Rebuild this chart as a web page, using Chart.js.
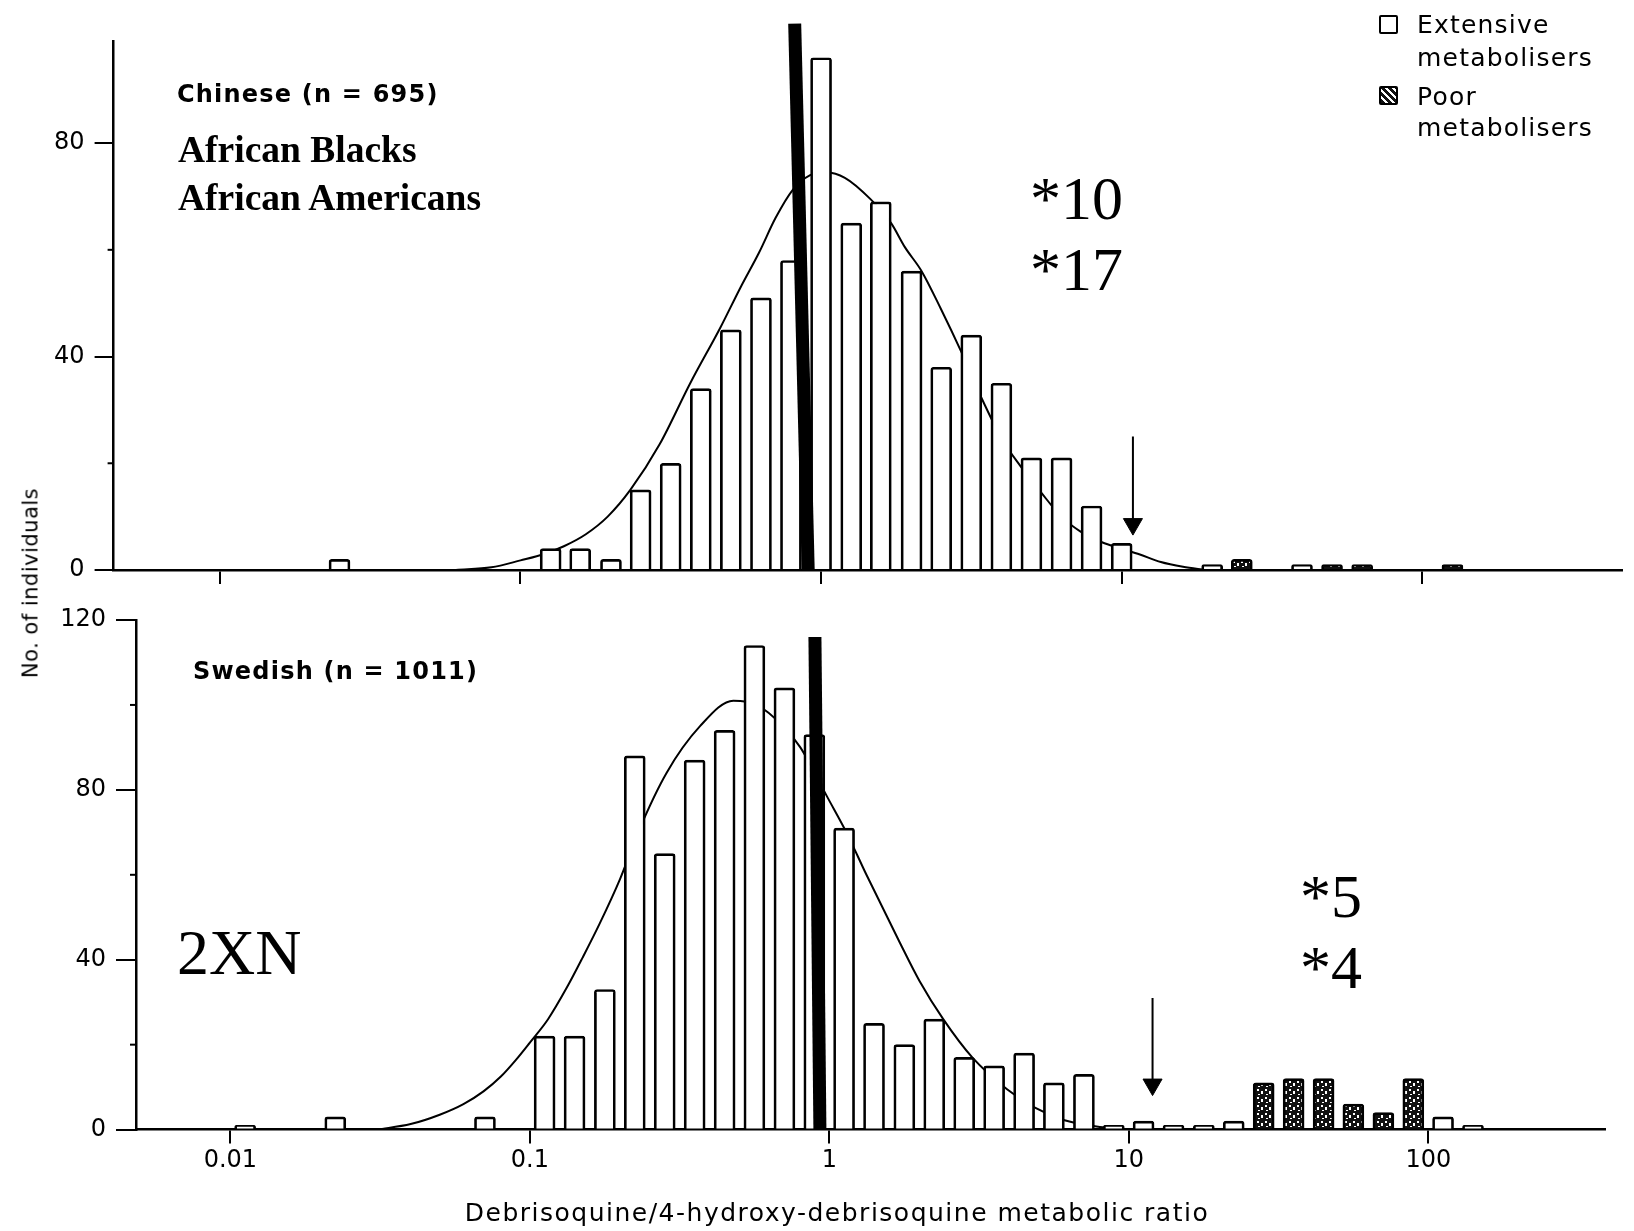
<!DOCTYPE html>
<html><head><meta charset="utf-8">
<script src="https://cdn.jsdelivr.net/npm/chart.js@4.4.1/dist/chart.umd.min.js"></script>
<style>
html,body{margin:0;padding:0;background:#fff;}
#wrap{position:relative;width:1634px;height:1231px;overflow:hidden;background:#fff;font-family:"DejaVu Sans",sans-serif;color:#000;}
canvas{position:absolute;left:0;top:0;}
.t{position:absolute;white-space:nowrap;line-height:1;}
.serif{font-family:"Liberation Serif","Times New Roman",serif;}
.box{position:absolute;width:15px;height:15px;border:2.5px solid #000;border-radius:2px;background:#fff;}
</style></head><body>
<div id="wrap">
<canvas id="cTop" width="1634" height="1231"></canvas>
<canvas id="cBot" width="1634" height="1231"></canvas>

<div class="t" style="left:177px;top:82px;font-size:24px;font-weight:bold;letter-spacing:1.2px;">Chinese (n = 695)</div>
<div class="t serif" style="left:178px;top:131px;font-size:37.5px;font-weight:bold;">African Blacks</div>
<div class="t serif" style="left:178px;top:179px;font-size:37.5px;font-weight:bold;">African Americans</div>
<div class="t serif" style="left:1030px;top:167px;font-size:62px;">*10</div>
<div class="t serif" style="left:1030px;top:238px;font-size:62px;">*17</div>

<div class="t" style="left:193px;top:659px;font-size:24px;font-weight:bold;letter-spacing:1.2px;">Swedish (n = 1011)</div>
<div class="t serif" style="left:177px;top:921px;font-size:64px;">2XN</div>
<div class="t serif" style="left:1300px;top:865px;font-size:62px;">*5</div>
<div class="t serif" style="left:1300px;top:936px;font-size:62px;">*4</div>

<div class="box" style="left:1379px;top:15px;"></div>
<div class="t" style="left:1417px;top:12px;font-size:25px;letter-spacing:1.2px;">Extensive</div>
<div class="t" style="left:1417px;top:45px;font-size:25px;letter-spacing:1.2px;">metabolisers</div>
<div class="box" style="left:1379px;top:86px;background:repeating-linear-gradient(45deg,#111 0 3px,#fff 3px 5px);"></div>
<div class="t" style="left:1417px;top:84px;font-size:25px;letter-spacing:1.2px;">Poor</div>
<div class="t" style="left:1417px;top:115px;font-size:25px;letter-spacing:1.2px;">metabolisers</div>

<div class="t" style="left:31px;top:583px;font-size:21px;letter-spacing:0.5px;transform:translate(-50%,-50%) rotate(-90deg);">No. of individuals</div>
<div class="t" style="left:837px;top:1212px;font-size:25px;letter-spacing:1.5px;transform:translate(-50%,-50%);">Debrisoquine/4-hydroxy-debrisoquine metabolic ratio</div>
</div>

<script>
// ---------- shared axis ticks ----------
const xTicks = [0.01, 0.1, 1, 10, 100];

// ---------- Chinese (n = 695) ----------
const cnYTicks = [0, 40, 80];
const cnYMinor = [20, 60];
const cnEmRatio = [0.025, 0.126, 0.158, 0.200, 0.251, 0.316, 0.398, 0.501, 0.631, 0.794, 1.00, 1.26, 1.58, 2.00, 2.51, 3.16, 3.98, 5.01, 6.31, 7.94, 10.0, 20.0, 39.8];
const cnEmCount = [2, 4, 4, 2, 15, 20, 34, 45, 51, 58, 96, 65, 69, 56, 38, 44, 35, 21, 21, 12, 5, 1, 1];
const cnPmRatio = [25.1, 50.1, 63.1, 126];
const cnPmCount = [2, 1, 1, 1];
const cnCurveRatio = [0.061, 0.08, 0.1, 0.12, 0.14, 0.165, 0.195, 0.232, 0.29, 0.367, 0.463, 0.54, 0.622, 0.706, 0.804, 0.92, 1.04, 1.2, 1.46, 1.71, 1.9, 2.16, 2.5, 2.92, 3.4, 4.0, 4.6, 5.4, 6.3, 7.3, 8.6, 10, 11.5, 13.5, 16, 19];
const cnCurveCount = [0, 0.5, 1.8, 3.0, 4.5, 6.7, 10, 15, 23.5, 35, 45.5, 53, 59.5, 66, 71.2, 74, 74.5, 73.5, 69.5, 65, 60.5, 56, 49, 41, 32.5, 24.5, 19.5, 14.5, 10, 7.2, 5.2, 4, 2.9, 1.5, 0.6, 0];
const cnBarRatio = [0.906, 0.817];
const cnBarCount = [0, 102.4];
const cnArrowRatio = [10.9, 10.9];
const cnArrowCount = [25, 8.6];

// ---------- Swedish (n = 1011) ----------
const swYTicks = [0, 40, 80, 120];
const swYMinor = [20, 60, 100];
const swEmRatio = [0.0112, 0.0224, 0.0708, 0.112, 0.141, 0.178, 0.224, 0.282, 0.355, 0.447, 0.562, 0.708, 0.891, 1.12, 1.41, 1.78, 2.24, 2.82, 3.55, 4.47, 5.62, 7.08, 8.91, 11.2, 14.1, 17.8, 22.4, 112, 141];
const swEmCount = [1, 3, 3, 22, 22, 33, 88, 65, 87, 94, 114, 104, 93, 71, 25, 20, 26, 17, 15, 18, 11, 13, 1, 2, 1, 1, 2, 3, 1];
const swPmRatio = [28.2, 35.5, 44.7, 56.2, 70.8, 89.1];
const swPmCount = [11, 12, 12, 6, 4, 12];
const swCurveRatio = [0.031, 0.04, 0.05, 0.06, 0.07, 0.08, 0.09, 0.1, 0.115, 0.133, 0.15, 0.171, 0.2, 0.233, 0.286, 0.37, 0.478, 0.572, 0.70, 0.80, 0.99, 1.14, 1.33, 1.72, 2.0, 2.4, 3.0, 3.92, 4.82, 6.1, 7.7, 9.2, 10.5];
const swCurveCount = [0, 1.3, 3.5, 6, 9, 12.5, 16.5, 20.5, 26, 33.5, 40.5, 48.5, 59, 71, 84, 95, 101, 100, 95, 90, 78, 70, 60, 44, 35, 26, 17, 9.5, 5.3, 2.2, 0.8, 0.2, 0];
const swBarRatio = [0.93, 0.895];
const swBarCount = [0, 116];
const swArrowRatio = [12.0, 12.0];
const swArrowCount = [31, 10.6];

// ---------- helpers ----------
const pts = (xs, ys) => xs.map((x, i) => ({ x: x, y: ys[i] }));
const FONT = '"DejaVu Sans", sans-serif';
const W = 1634, H = 1231;

function pmPattern() {
  const c = document.createElement('canvas'); c.width = 8; c.height = 8;
  const g = c.getContext('2d');
  g.fillStyle = '#111'; g.fillRect(0, 0, 8, 8);
  g.fillStyle = '#fff';
  g.fillRect(1, 1, 2, 2); g.fillRect(5, 3, 2, 3); g.fillRect(2, 6, 2, 1);
  return g.createPattern(c, 'repeat');
}

const minorTicks = {
  id: 'minorTicks',
  afterDraw(chart, args, opts) {
    const y = chart.scales.y, ctx = chart.ctx;
    ctx.save(); ctx.strokeStyle = '#000'; ctx.lineWidth = 2;
    (opts.values || []).forEach(v => {
      const py = y.getPixelForValue(v);
      ctx.beginPath(); ctx.moveTo(y.right - opts.len, py); ctx.lineTo(y.right, py); ctx.stroke();
    });
    ctx.restore();
  }
};

function makePanel(id, cfg) {
  const a = cfg.area;
  const xAxisH = cfg.xAxisH;
  return new Chart(document.getElementById(id), {
    type: 'bar',
    data: {
      datasets: [
        { type: 'line', label: 'Fitted distribution', data: pts(cfg.curveX, cfg.curveY),
          borderColor: '#000', borderWidth: 2, pointRadius: 0, fill: false,
          cubicInterpolationMode: 'monotone', order: 5 },
        { type: 'bar', label: 'Extensive metabolisers', data: pts(cfg.emX, cfg.emY),
          backgroundColor: '#fff', borderColor: '#000', borderWidth: 2.7, borderRadius: 3,
          barThickness: 21, grouped: false, order: 2 },
        { type: 'bar', label: 'Poor metabolisers', data: pts(cfg.pmX, cfg.pmY),
          backgroundColor: pmPattern(), borderColor: '#000', borderWidth: 2.7, borderRadius: 3,
          barThickness: 21, grouped: false, order: 2 },
        { type: 'line', label: 'marker', data: pts(cfg.barX, cfg.barY),
          borderColor: '#000', borderWidth: 13, borderCapStyle: 'butt', pointRadius: 0,
          clip: false, order: 0 },
        { type: 'line', label: 'antimode', data: pts(cfg.arrowX, cfg.arrowY),
          borderColor: '#000', borderWidth: 2, pointRadius: [0, 11], pointStyle: 'triangle',
          pointRotation: 180, pointBackgroundColor: '#000', pointBorderColor: '#000', pointBorderWidth: 1,
          clip: false, order: 0 }
      ]
    },
    options: {
      responsive: false, animation: false, events: [],
      layout: { padding: { left: 0, top: a.top, right: W - a.right, bottom: H - a.bottom - xAxisH } },
      plugins: {
        legend: { display: false }, tooltip: { enabled: false },
        minorTicks: { values: cfg.yMinor, len: 6 }
      },
      scales: {
        x: {
          type: 'logarithmic', min: cfg.xmin, max: cfg.xmax, offset: false,
          afterBuildTicks: s => { s.ticks = xTicks.map(v => ({ value: v })); },
          afterFit: s => { s.height = xAxisH; },
          grid: { display: true, offset: false, drawOnChartArea: false, drawTicks: true, tickLength: 14, color: '#000', lineWidth: 2 },
          border: { display: true, color: '#000', width: 2.5 },
          ticks: { color: cfg.xLabels ? '#000' : 'rgba(0,0,0,0)', font: { family: FONT, size: 24 }, padding: 3,
            maxRotation: 0, autoSkip: false, callback: v => cfg.xLabels ? String(v) : '' }
        },
        y: {
          type: 'linear', min: 0, max: cfg.ymax,
          afterBuildTicks: s => { s.ticks = cfg.yTicks.map(v => ({ value: v })); },
          afterFit: s => { s.width = a.left; },
          grid: { display: true, drawOnChartArea: false, drawTicks: true, tickLength: cfg.yTickLen, color: '#000', lineWidth: 2 },
          border: { display: true, color: '#000', width: 2.5 },
          ticks: { color: '#000', font: { family: FONT, size: 24 }, padding: cfg.yPad }
        }
      }
    },
    plugins: [minorTicks]
  });
}

makePanel('cTop', {
  area: { left: 113.6, right: 1632, top: 41.7, bottom: 570 }, xAxisH: 30,
  xmin: 0.00443, xmax: 461.8, ymax: 99, yTicks: cnYTicks, yMinor: cnYMinor, yTickLen: 19, yPad: 10,
  xLabels: false,
  curveX: cnCurveRatio, curveY: cnCurveCount, emX: cnEmRatio, emY: cnEmCount, pmX: cnPmRatio, pmY: cnPmCount,
  barX: cnBarRatio, barY: cnBarCount, arrowX: cnArrowRatio, arrowY: cnArrowCount
});

makePanel('cBot', {
  area: { left: 136, right: 1605, top: 620, bottom: 1129.6 }, xAxisH: 60,
  xmin: 0.00484, xmax: 389, ymax: 120, yTicks: swYTicks, yMinor: swYMinor, yTickLen: 20, yPad: 10,
  xLabels: true,
  curveX: swCurveRatio, curveY: swCurveCount, emX: swEmRatio, emY: swEmCount, pmX: swPmRatio, pmY: swPmCount,
  barX: swBarRatio, barY: swBarCount, arrowX: swArrowRatio, arrowY: swArrowCount
});
</script>
</body></html>
